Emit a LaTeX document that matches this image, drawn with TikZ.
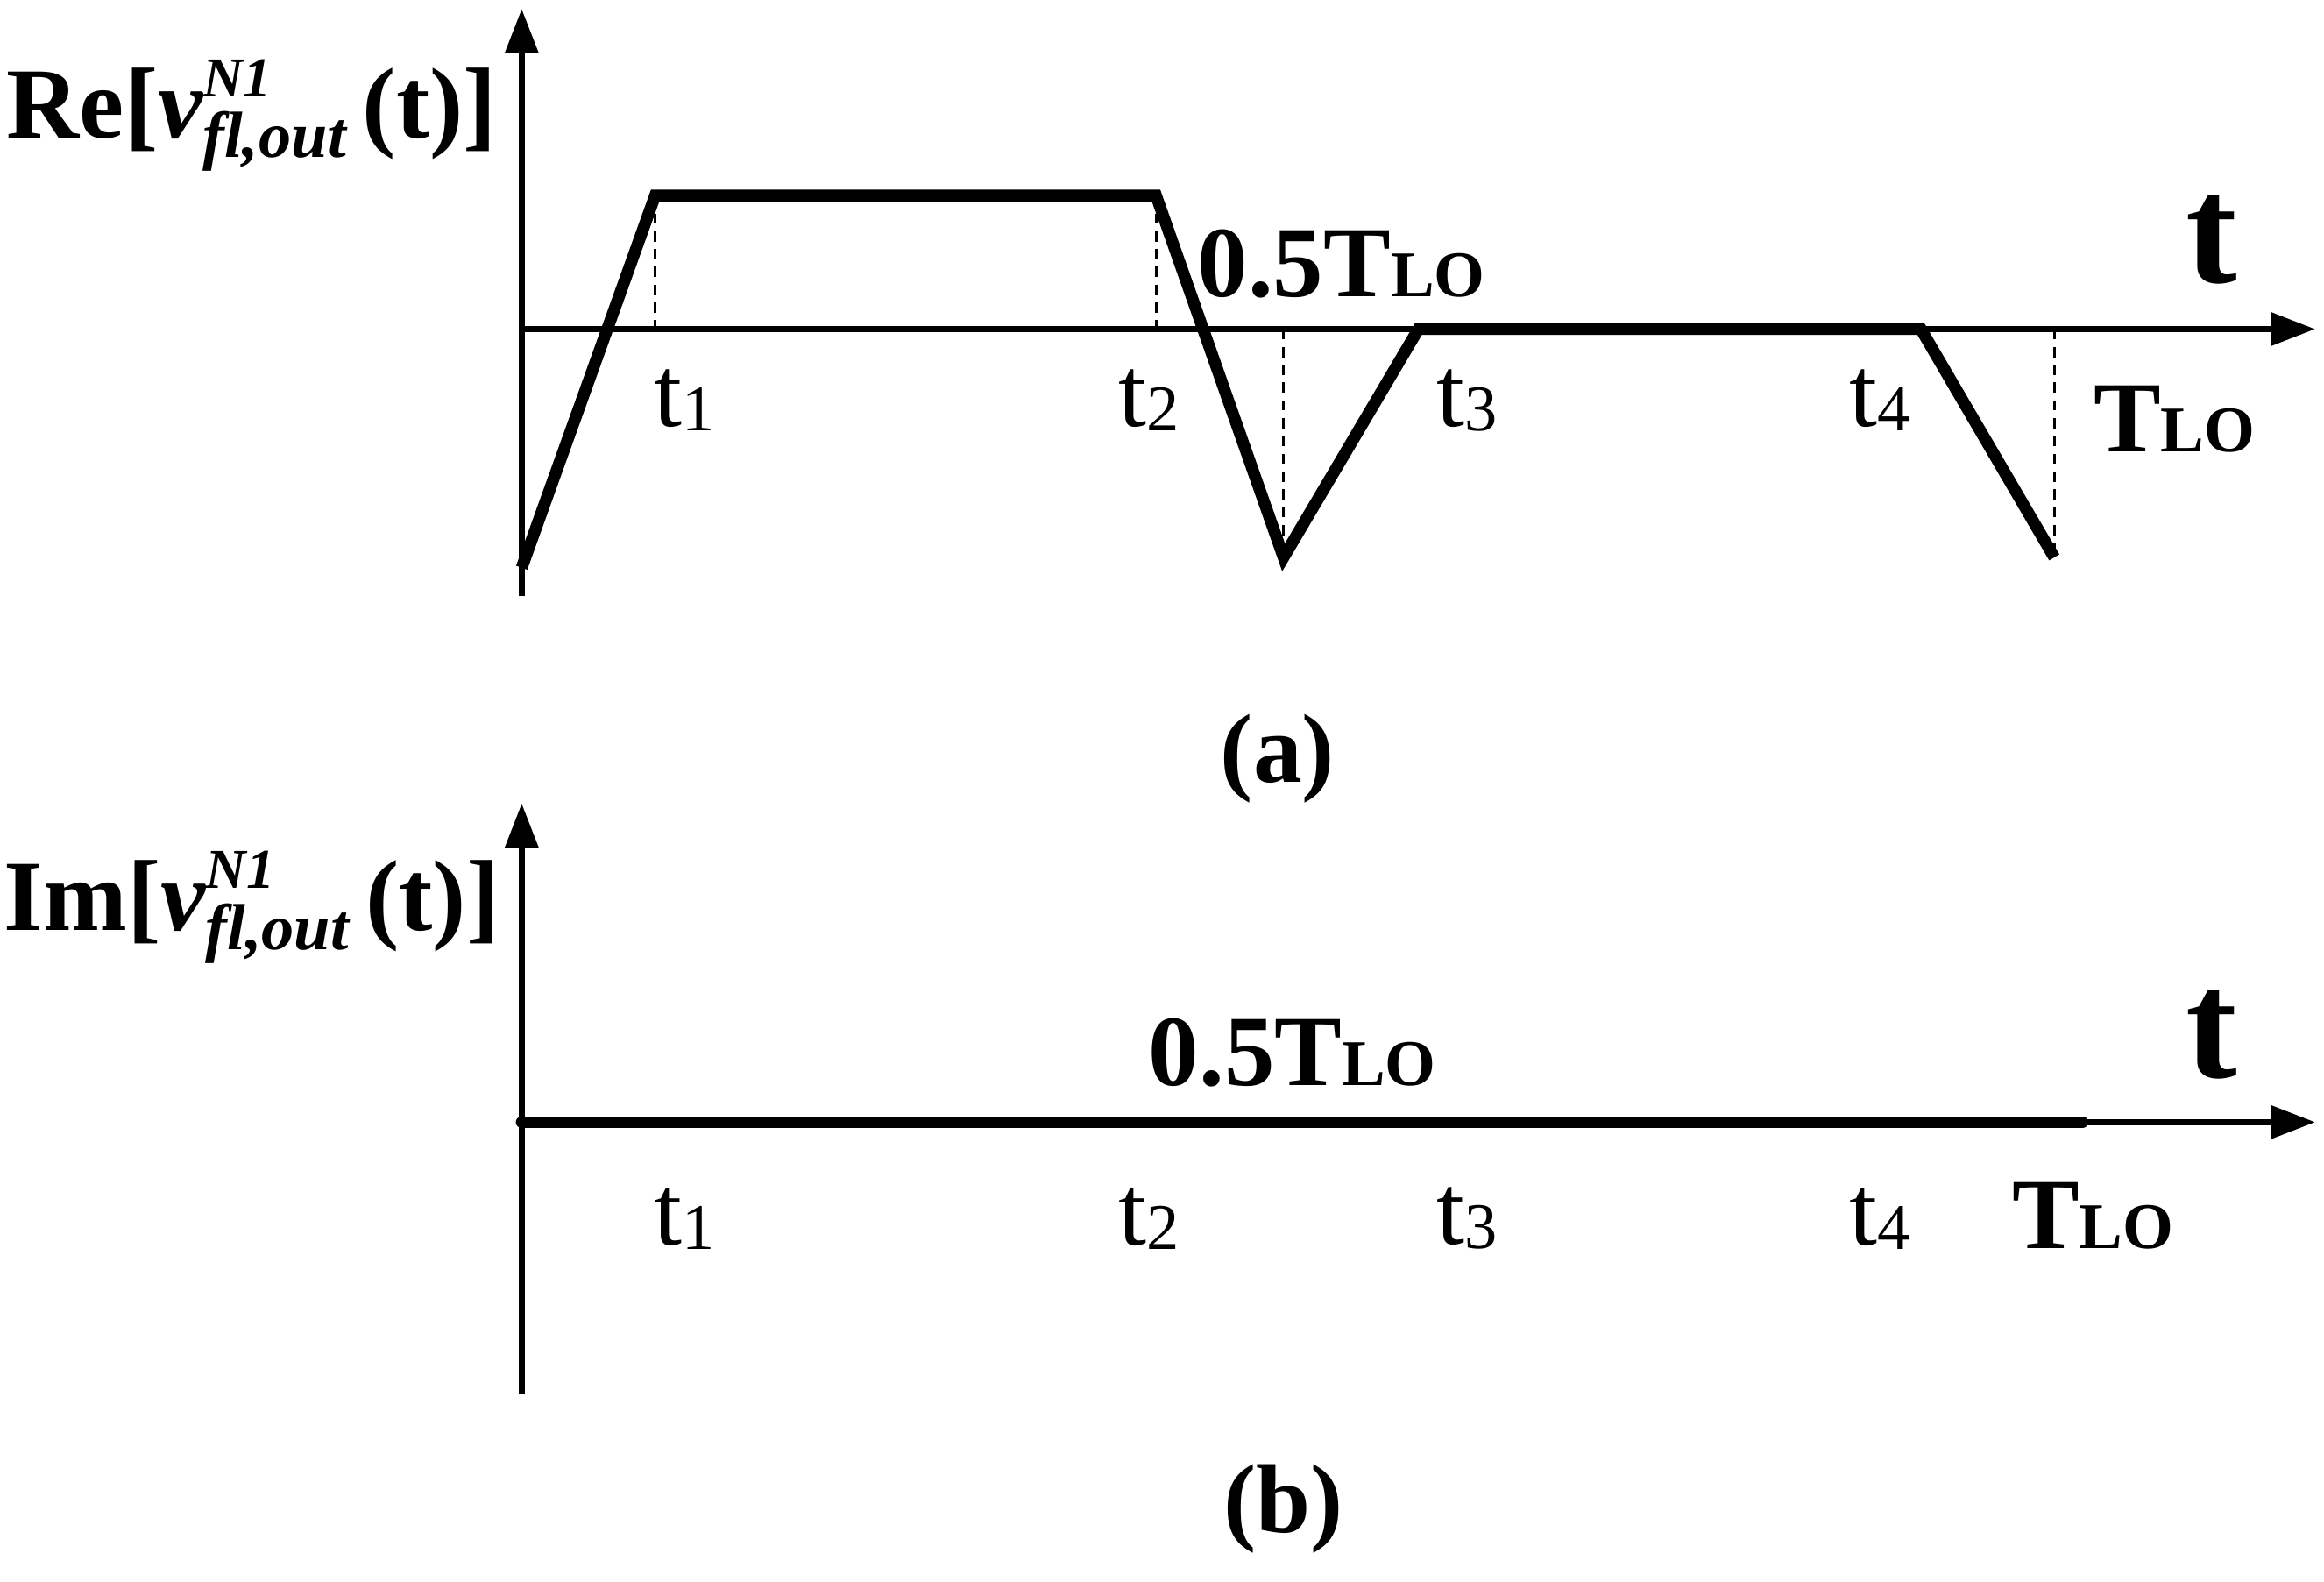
\documentclass[tikz,border=0pt]{standalone}
\usepackage{fontspec}
\setmainfont{Liberation Serif}
\usetikzlibrary{arrows.meta}
\begin{document}
\begin{tikzpicture}[x=1pt,y=-1pt,
 ax/.style={line width=4pt,-{Triangle[length=30pt,width=22pt]}},
 wave/.style={line width=8pt,line join=miter},
 dsh/.style={line width=2pt,dash pattern=on 7pt off 5pt},
 lab/.style={inner sep=0pt,font=\fontsize{68}{68}\selectfont}]
\useasboundingbox (0,0) rectangle (1568,1067);
\newcommand{\tlo}{\textbf{T\fontsize{44}{44}\selectfont LO}}
\newcommand{\tsub}[1]{t{\fontsize{44}{44}\selectfont\raisebox{-3pt}{#1}}}
\newcommand{\vfl}{{\bfseries\itshape v\rlap{\fontsize{38}{38}\selectfont\raisebox{28pt}{N1}}{\fontsize{44}{44}\selectfont\raisebox{-13pt}{fl,out}}}}
% (a)
\coordinate (ya0) at (352,402); \coordinate (ya1) at (352,6);
\coordinate (xa0) at (352,222); \coordinate (xa1) at (1562,222);
\draw[ax] (ya0)--(ya1);
\draw[ax] (xa0)--(xa1);
\coordinate (p0) at (352,383); \coordinate (p1) at (442,132); \coordinate (p2) at (780,132);
\coordinate (p3) at (866,376); \coordinate (p4) at (957,222); \coordinate (p5) at (1296,222);
\coordinate (p6) at (1386,376);
\draw[wave] (p0)--(p1)--(p2)--(p3)--(p4)--(p5)--(p6);
\coordinate (d1) at (442,222); \coordinate (d2) at (780,222);
\coordinate (d3) at (866,222); \coordinate (d4) at (1386,222);
\draw[dsh] (p1)--(d1); \draw[dsh] (p2)--(d2); \draw[dsh] (d3)--(p3); \draw[dsh] (d4)--(p6);
\node[lab] (a1) at (462,270) {\tsub{1}};
\node[lab] (a2) at (775,270) {\tsub{2}};
\node[lab] (a3) at (990,270) {\tsub{3}};
\node[lab] (a4) at (1268,270) {\tsub{4}};
\node[lab] (aT) at (1467,283) {\tlo};
\node[lab] (ah) at (905,178) {\textbf{0.5}\tlo};
\node[lab,font=\fontsize{104}{104}\selectfont\bfseries] (at) at (1492,162) {t};
\node[lab,font=\fontsize{68}{68}\selectfont\bfseries] (are) at (170,78) {Re[\vfl\,(t)]};
\node[lab,font=\fontsize{66}{66}\selectfont\bfseries] (acap) at (862,512) {(a)};
% (b)
\coordinate (yb0) at (352,940); \coordinate (yb1) at (352,542);
\coordinate (xb0) at (352,757); \coordinate (xb1) at (1562,757);
\draw[ax] (yb0)--(yb1);
\draw[ax] (xb0)--(xb1);
\coordinate (q0) at (352,757); \coordinate (q1) at (1405,757);
\draw[wave,line cap=round] (q0)--(q1);
\node[lab] (b1) at (462,822) {\tsub{1}};
\node[lab] (b2) at (775,822) {\tsub{2}};
\node[lab] (b3) at (990,822) {\tsub{3}};
\node[lab] (b4) at (1268,822) {\tsub{4}};
\node[lab] (bT) at (1412,820) {\tlo};
\node[lab] (bh) at (872,710) {\textbf{0.5}\tlo};
\node[lab,font=\fontsize{104}{104}\selectfont\bfseries] (bt) at (1492,698) {t};
\node[lab,font=\fontsize{68}{68}\selectfont\bfseries] (bim) at (170,612) {Im[\vfl\,(t)]};
\node[lab,font=\fontsize{66}{66}\selectfont\bfseries] (bcap) at (866,1018) {(b)};
\end{tikzpicture}
\end{document}
